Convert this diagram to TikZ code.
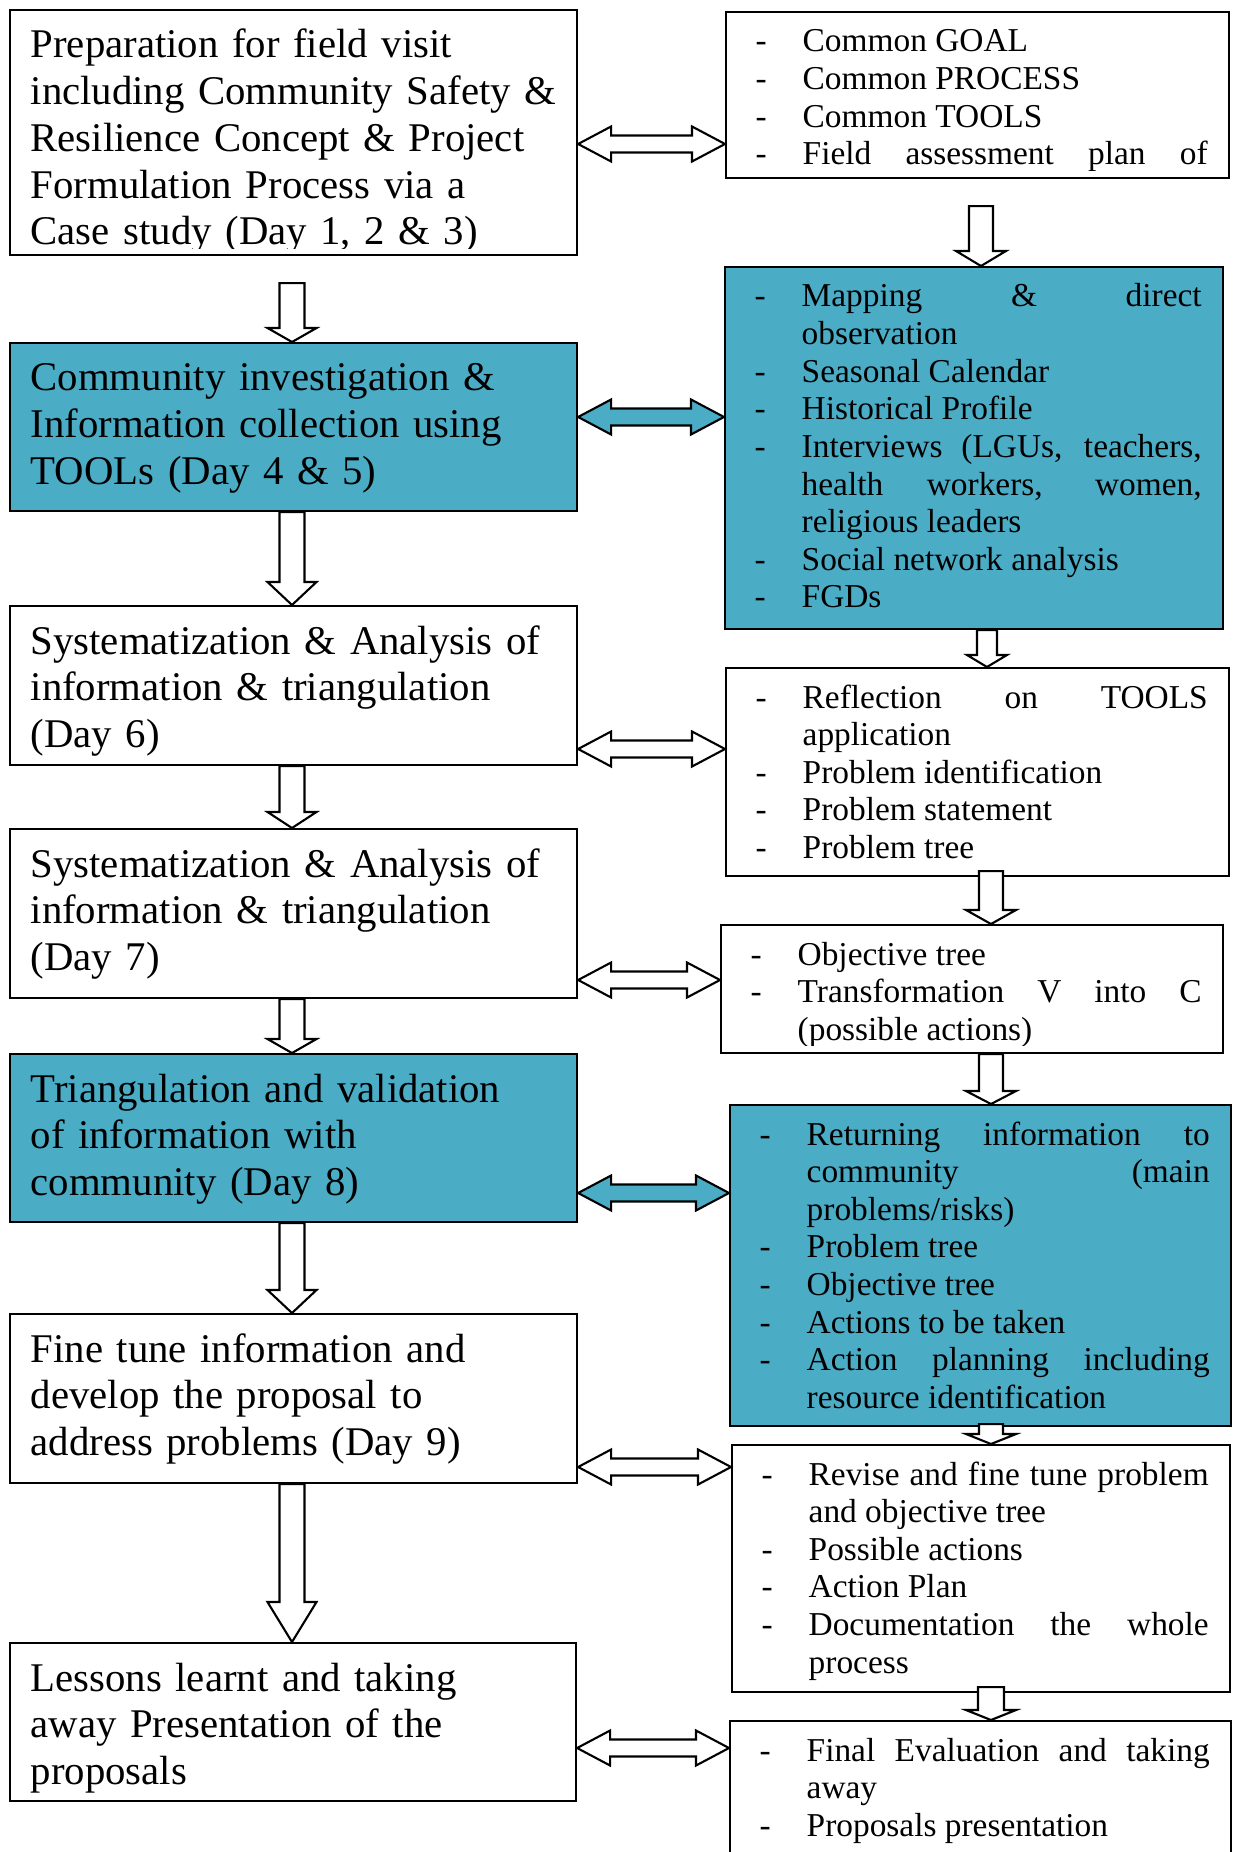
\documentclass[tikz,border=0pt]{standalone}
\usepackage{fontspec}
\setmainfont{Liberation Serif}
\usepackage{tikz}
\usetikzlibrary{calc}
\definecolor{tealbox}{RGB}{75,172,198}
% one dash item with hanging indent
\newcommand{\itm}[1]{\noindent\hangindent=4.7mm\hangafter=1\makebox[4.7mm][l]{-}#1\par}
\hbadness=10000

\begin{document}
\begin{tikzpicture}[x=0.1mm, y=-0.1mm,
  box/.style={draw, line width=0.6pt, inner sep=0pt, anchor=north west},
  lefttext/.style={anchor=base west, inner sep=0pt, text width=54mm, align=left, font=\fontsize{11.6}{13.3}\selectfont},
  righttext/.style={anchor=base west, inner sep=0pt, align=justify, font=\fontsize{9.5}{10.7}\selectfont},
  blockarrow/.style={draw, line width=0.6pt, fill=white}]
  \useasboundingbox (0,0) rectangle (1233,1852);
  \clip (0,0) rectangle (1233,1852);

  % left column
  \node[box, minimum width=56.7mm, minimum height=24.5mm] (prep) at (9,9) {};
  \node[box, fill=tealbox, minimum width=56.7mm, minimum height=16.8mm] (invest) at (9,342) {};
  \node[box, minimum width=56.7mm, minimum height=15.9mm] (analysis6) at (9,605) {};
  \node[box, minimum width=56.7mm, minimum height=16.9mm] (analysis7) at (9,828) {};
  \node[box, fill=tealbox, minimum width=56.7mm, minimum height=16.8mm] (valid) at (9,1053) {};
  \node[box, minimum width=56.7mm, minimum height=16.9mm] (finetune) at (9,1313) {};
  \node[box, minimum width=56.6mm, minimum height=15.8mm] (lessons) at (9,1642) {};

  \begin{scope}
    \clip (prep.north west) rectangle ($(prep.south east)+(0,-8)$);
    \node[lefttext] (prept) at ($(prep.north west)+(21,49)$) {Preparation for field visit\\ including Community Safety \&\\ Resilience Concept \& Project\\ Formulation Process via a\\ Case study (Day 1, 2 \& 3)};
  \end{scope}
  \node[lefttext] (investt) at ($(invest.north west)+(21,49)$) {Community investigation \&\\ Information collection using\\ TOOLs (Day 4 \& 5)};
  \node[lefttext] (analysis6t) at ($(analysis6.north west)+(21,49)$) {Systematization \& Analysis of\\ information \& triangulation\\ (Day 6)};
  \node[lefttext] (analysis7t) at ($(analysis7.north west)+(21,49)$) {Systematization \& Analysis of\\ information \& triangulation\\ (Day 7)};
  \node[lefttext] (validt) at ($(valid.north west)+(21,49)$) {Triangulation and validation\\ of information with\\ community (Day 8)};
  \node[lefttext] (finetunet) at ($(finetune.north west)+(21,49)$) {Fine tune information and\\ develop the proposal to\\ address problems (Day 9)};
  \node[lefttext] (lessonst) at ($(lessons.north west)+(21,49)$) {Lessons learnt and taking\\ away Presentation of the\\ proposals};

  % right column
  \node[box, minimum width=50.3mm, minimum height=16.6mm] (common) at (725,11) {};
  \node[box, fill=tealbox, minimum width=49.8mm, minimum height=36.2mm] (tools) at (724,266) {};
  \node[box, minimum width=50.3mm, minimum height=20.8mm] (reflect) at (725,667) {};
  \node[box, minimum width=50.2mm, minimum height=12.8mm] (objtree) at (720,924) {};
  \node[box, fill=tealbox, minimum width=50.1mm, minimum height=32.1mm] (returninfo) at (729,1104) {};
  \node[box, minimum width=49.8mm, minimum height=24.7mm] (revise) at (731,1444) {};
  \node[box, minimum width=50.1mm, minimum height=16mm] (final) at (729,1720) {};

  \begin{scope}
    \clip (common.north west) rectangle ($(common.south east)+(0,-9)$);
    \node[righttext, text width=45.2mm] (commont) at ($(common.north west)+(30,41)$) {\itm{Common GOAL}\itm{Common PROCESS}\itm{Common TOOLS}\itm{{\parfillskip=0pt Field assessment plan of\par}}};
  \end{scope}
  \node[righttext, text width=44.7mm] (toolst) at ($(tools.north west)+(30,41)$) {\itm{Mapping \& direct\linebreak observation}\itm{Seasonal Calendar}\itm{Historical Profile}\itm{Interviews (LGUs, teachers,\linebreak health workers, women,\linebreak religious leaders}\itm{Social network analysis}\itm{FGDs}};
  \node[righttext, text width=45.2mm] (reflectt) at ($(reflect.north west)+(30,41)$) {\itm{Reflection on TOOLS\linebreak application}\itm{Problem identification}\itm{Problem statement}\itm{Problem tree}};
  \begin{scope}
    \clip (objtree.north west) rectangle ($(objtree.south east)+(0,-9)$);
    \node[righttext, text width=45.1mm] (objtreet) at ($(objtree.north west)+(30,41)$) {\itm{Objective tree}\itm{Transformation V into C\linebreak (possible actions)}};
  \end{scope}
  \node[righttext, text width=45mm] (returninfot) at ($(returninfo.north west)+(30,41)$) {\itm{Returning information to\linebreak community (main\linebreak problems/risks)}\itm{Problem tree}\itm{Objective tree}\itm{Actions to be taken}\itm{Action planning including\linebreak resource identification}};
  \node[righttext, text width=44.7mm] (reviset) at ($(revise.north west)+(30,41)$) {\itm{Revise and fine tune problem\linebreak and objective tree}\itm{Possible actions}\itm{Action Plan}\itm{Documentation the whole\linebreak process}};
  \node[righttext, text width=45mm] (finalt) at ($(final.north west)+(30,41)$) {\itm{Final Evaluation and taking\linebreak away}\itm{Proposals presentation}};

  % down arrows, left column
  \foreach \src/\dst/\gap/\hd in {prep/invest/27/14, invest/analysis6/0/23, analysis6/analysis7/0/16,
      analysis7/valid/0/14, valid/finetune/0/23, finetune/lessons/0/40} {
    \path (292,0 |- \src.south) ++(0,\gap) coordinate (s) (292,0 |- \dst.north) coordinate (t);
    \draw[blockarrow] ($(s)+(-12.5,0)$) -- ($(t)+(-12.5,-\hd)$) -- ($(t)+(-24.5,-\hd)$) -- (t)
      -- ($(t)+(24.5,-\hd)$) -- ($(t)+(12.5,-\hd)$) -- ($(s)+(12.5,0)$) -- cycle;
  }
  % down arrows, right column
  \foreach \x/\src/\dst/\gap/\hd/\sw/\hw in {981/common/tools/27/15/12/25, 987/tools/reflect/0/12/10/20,
      991/reflect/objtree/-6/14/12/25, 991/objtree/returninfo/0/13/12/25,
      991/returninfo/revise/-3/10/12/25, 991/revise/final/-6/10/13/25} {
    \path (\x,0 |- \src.south) ++(0,\gap) coordinate (s) (\x,0 |- \dst.north) coordinate (t);
    \draw[blockarrow] ($(s)+(-\sw,0)$) -- ($(t)+(-\sw,-\hd)$) -- ($(t)+(-\hw,-\hd)$) -- (t)
      -- ($(t)+(\hw,-\hd)$) -- ($(t)+(\sw,-\hd)$) -- ($(s)+(\sw,0)$) -- cycle;
  }
  % two-way arrows between the columns
  \foreach \l/\r/\y/\col in {prep/common/144/white, invest/tools/417/tealbox, analysis6/reflect/749/white,
      analysis7/objtree/980/white, valid/returninfo/1193/tealbox, finetune/revise/1467/white,
      lessons/final/1748/white} {
    \path (\l.east |- 0,\y) coordinate (p) (\r.west |- 0,\y) coordinate (q);
    \draw[blockarrow, fill=\col] (p) -- ($(p)+(33,-17.5)$) -- ($(p)+(33,-8.5)$) -- ($(q)+(-33,-8.5)$)
      -- ($(q)+(-33,-17.5)$) -- (q) -- ($(q)+(-33,17.5)$) -- ($(q)+(-33,8.5)$)
      -- ($(p)+(33,8.5)$) -- ($(p)+(33,17.5)$) -- cycle;
  }
\end{tikzpicture}
\end{document}
